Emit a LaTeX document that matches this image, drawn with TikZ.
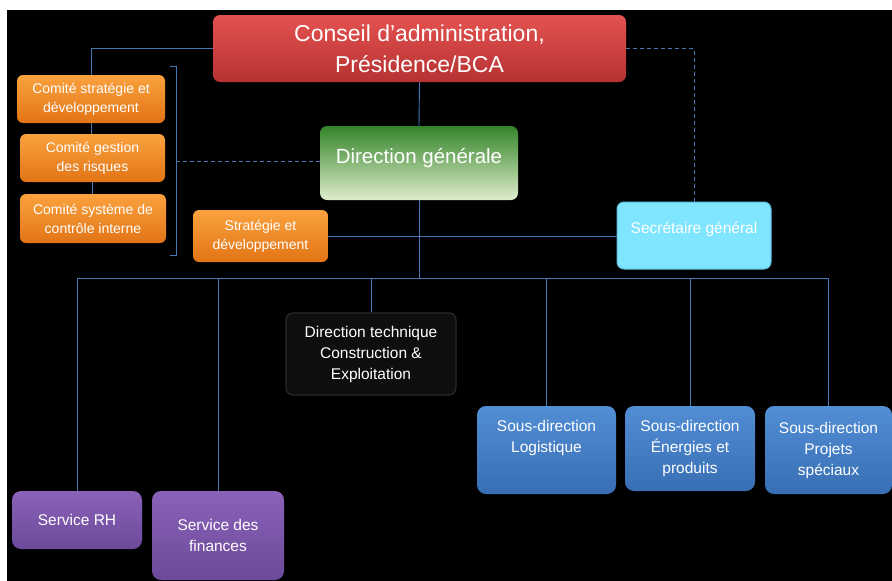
\documentclass[tikz,border=0pt]{standalone}
\usepackage{fontspec}
\setmainfont{Liberation Sans}
\usetikzlibrary{calc}
\definecolor{linkblue}{RGB}{70,120,180}
\definecolor{redtop}{RGB}{228,82,80}
\definecolor{redbot}{RGB}{182,50,50}
\definecolor{orangetop}{RGB}{250,162,62}
\definecolor{orangebot}{RGB}{226,116,22}
\definecolor{greentop}{RGB}{52,132,42}
\definecolor{greenbot}{RGB}{222,237,202}
\definecolor{cyanfill}{RGB}{128,229,255}
\definecolor{cyanedge}{RGB}{92,190,222}
\definecolor{bluetop}{RGB}{82,142,212}
\definecolor{bluebot}{RGB}{56,110,180}
\definecolor{purpletop}{RGB}{138,98,184}
\definecolor{purplebot}{RGB}{108,74,154}
\definecolor{techfill}{RGB}{14,14,14}
\definecolor{techedge}{RGB}{42,42,42}
\tikzstyle{box}=[rounded corners=7pt, inner sep=0pt, align=center, text=white]
\tikzstyle{link}=[draw=linkblue, line width=0.9pt]
\tikzstyle{dotlink}=[link, dash pattern=on 4pt off 3pt]
\tikzstyle{conseil}=[box, top color=redtop, bottom color=redbot, font=\fontsize{23}{31}\selectfont]
\tikzstyle{comite}=[box, rounded corners=6pt, top color=orangetop, bottom color=orangebot, font=\fontsize{14}{19}\selectfont]
\tikzstyle{direction}=[box, top color=greentop, bottom color=greenbot, font=\fontsize{20.5}{26}\selectfont]
\tikzstyle{secretaire}=[box, fill=cyanfill, draw=cyanedge, line width=1pt, font=\fontsize{15.5}{21}\selectfont]
\tikzstyle{technique}=[box, fill=techfill, draw=techedge, line width=1.2pt, font=\fontsize{15.5}{21}\selectfont]
\tikzstyle{sousdir}=[box, rounded corners=9pt, top color=bluetop, bottom color=bluebot, font=\fontsize{15.5}{21}\selectfont]
\tikzstyle{service}=[box, rounded corners=9pt, top color=purpletop, bottom color=purplebot, font=\fontsize{15.5}{21}\selectfont]

\begin{document}
\begin{tikzpicture}[x=1pt,y=-1pt]
\useasboundingbox (0,0) rectangle (892,581);
\fill[white] (0,0) rectangle (892,581);
\fill[black] (7,10) rectangle (892,581); % slide area

% top of the chart
\node[conseil, minimum width=413, minimum height=67] (cons) at (419.5,48.5) {Conseil d’administration,\\Présidence/BCA};
\node[direction, minimum width=198, minimum height=74, text depth=14pt] (dg) at (419,163) {Direction générale};

% comites
\node[comite, minimum width=148, minimum height=48] (csd) at (91,99) {Comité stratégie et\\développement};
\node[comite, minimum width=145, minimum height=48] (cgr) at (92.5,158) {Comité gestion\\des risques};
\node[comite, minimum width=146, minimum height=49] (csci) at (93,218.5) {Comité système de\\contrôle interne};
\node[comite, minimum width=135, minimum height=52] (strat) at (260.5,236) {Stratégie et\\développement};
\node[secretaire, minimum width=154, minimum height=67, text depth=15pt] (sg) at (694,235.5) {Secrétaire général};

% services and directions
\node[technique, minimum width=170, minimum height=82] (dt) at (371,354) {Direction technique\\Construction \&\\Exploitation};
\node[service, minimum width=130, minimum height=58] (rh) at (77,520) {Service RH};
\node[service, minimum width=132, minimum height=89] (fin) at (218,535.5) {Service des\\finances};
\node[sousdir, minimum width=139, minimum height=88] (logi) at (546.5,450) {Sous-direction\\Logistique\\\strut};
\node[sousdir, minimum width=130, minimum height=85] (ener) at (690,448.5) {Sous-direction\\Énergies et\\produits};
\node[sousdir, minimum width=127, minimum height=88] (proj) at (828.5,450) {Sous-direction\\Projets\\spéciaux};

% connectors
\coordinate (bkt) at (176,161);
\coordinate (bus) at (419,278);
\draw[link] (cons.west) -| (csd.north);
\draw[link] (csd.south) -- (csd.south |- cgr.north);
\draw[link] (cgr.south) -- (cgr.south |- csci.north);
\draw[link] (170,66) -- (176,66) -- (176,255) -- (170,255); % bracket
\draw[dotlink] (bkt) -- (bkt -| dg.west);
\draw[dotlink] (cons.east) -| (sg.north);
\draw[link] (cons.south) -- (dg.north);
\draw[link] (strat.east) -- (strat.east -| sg.west);
\draw[link] (dg.south) -- (bus);
\foreach \n in {rh,fin,dt,logi,ener,proj}
  \draw[link] (bus) -| (\n.north);
\end{tikzpicture}
\end{document}
